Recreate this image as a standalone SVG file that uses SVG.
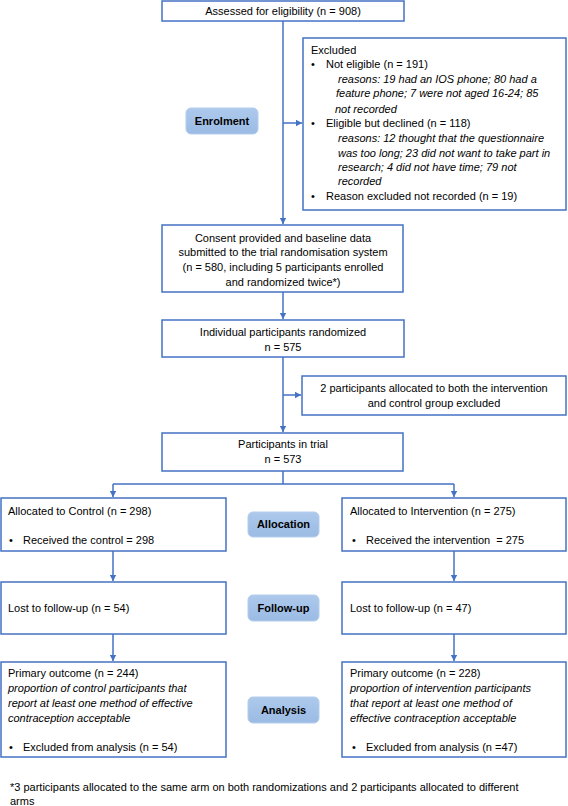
<svg xmlns="http://www.w3.org/2000/svg" width="568" height="806" viewBox="0 0 568 806">
<style>
text{font-family:"Liberation Sans",Arial,sans-serif;font-size:11px;fill:#000}
.c{text-anchor:middle}
.i{font-style:italic}
.b{font-weight:bold}
.box{fill:#fff;stroke:#4472c4;stroke-width:1.5}
.lab{fill:url(#g);stroke:#b4cdec;stroke-width:1}
.ln{fill:none;stroke:#4472c4;stroke-width:1.5}
</style>
<defs>
<linearGradient id="g" x1="0" y1="0" x2="0" y2="1">
<stop offset="0" stop-color="#adc9ec"/>
<stop offset="1" stop-color="#9bbbe4"/>
</linearGradient>
<marker id="a" markerWidth="8" markerHeight="8" refX="6" refY="4" orient="auto" markerUnits="userSpaceOnUse">
<path d="M0,0.8 L6,4 L0,7.2 Z" fill="#4472c4"/>
</marker>
</defs>

<g id="connectors">
<path class="ln" d="M283,21 V224" marker-end="url(#a)"/>
<path class="ln" d="M283,123 H302" marker-end="url(#a)"/>
<path class="ln" d="M283,292 V319" marker-end="url(#a)"/>
<path class="ln" d="M283,357 V432" marker-end="url(#a)"/>
<path class="ln" d="M283,395 H301" marker-end="url(#a)"/>
<path class="ln" d="M283,471 V484 M113,484 H454"/>
<path class="ln" d="M113,484 V497" marker-end="url(#a)"/>
<path class="ln" d="M454,484 V497" marker-end="url(#a)"/>
<path class="ln" d="M113,551 V581" marker-end="url(#a)"/>
<path class="ln" d="M454,551 V581" marker-end="url(#a)"/>
<path class="ln" d="M113,634 V661" marker-end="url(#a)"/>
<path class="ln" d="M454,634 V661" marker-end="url(#a)"/>
</g>

<g id="assessed">
<rect class="box" x="162" y="1" width="242" height="20"/>
<text class="c" x="283" y="15">Assessed for eligibility (n = 908)</text>
</g>

<g id="excluded">
<rect class="box" x="303" y="38" width="263" height="172"/>
<text x="311" y="54">Excluded</text>
<text x="311" y="68">•</text><text x="326" y="68">Not eligible (n = 191)</text>
<text class="i" x="338" y="83">reasons: 19 had an IOS phone; 80 had a</text>
<text class="i" x="336" y="97">feature phone; 7 were not aged 16-24; 85</text>
<text class="i" x="335" y="113">not recorded</text>
<text x="311" y="127">•</text><text x="326" y="127">Eligible but declined (n = 118)</text>
<text class="i" x="338" y="142">reasons: 12 thought that the questionnaire</text>
<text class="i" x="338" y="157">was too long; 23 did not want to take part in</text>
<text class="i" x="338" y="171">research; 4 did not have time; 79 not</text>
<text class="i" x="338" y="185">recorded</text>
<text x="311" y="200">•</text><text x="326" y="200">Reason excluded not recorded (n = 19)</text>
</g>

<g id="enrolment">
<rect class="lab" x="186" y="108" width="72" height="26" rx="5"/>
<text class="c b" x="222" y="125">Enrolment</text>
</g>

<g id="consent">
<rect class="box" x="162" y="225" width="241" height="67"/>
<text class="c" x="283" y="242">Consent provided and baseline data</text>
<text class="c" x="283" y="256">submitted to the trial randomisation system</text>
<text class="c" x="283" y="271">(n = 580, including 5 participants enrolled</text>
<text class="c" x="283" y="286">and randomized twice*)</text>
</g>

<g id="randomized">
<rect class="box" x="162" y="320" width="242" height="37"/>
<text class="c" x="283" y="336">Individual participants randomized</text>
<text class="c" x="283" y="351">n = 575</text>
</g>

<g id="excluded2">
<rect class="box" x="302" y="376" width="264" height="39"/>
<text class="c" x="434" y="392">2 participants allocated to both the intervention</text>
<text class="c" x="434" y="407">and control group excluded</text>
</g>

<g id="participants">
<rect class="box" x="162" y="433" width="241" height="38"/>
<text class="c" x="283" y="448">Participants in trial</text>
<text class="c" x="283" y="463">n = 573</text>
</g>

<g id="alloc-control">
<rect class="box" x="1" y="498" width="225" height="53"/>
<text x="8" y="515">Allocated to Control (n = 298)</text>
<text x="9" y="544">•</text><text x="23" y="544">Received the control = 298</text>
</g>

<g id="allocation">
<rect class="lab" x="248" y="512" width="71" height="25" rx="5"/>
<text class="c b" x="283.5" y="528">Allocation</text>
</g>

<g id="alloc-intervention">
<rect class="box" x="342" y="498" width="224" height="53"/>
<text x="350" y="515">Allocated to Intervention (n = 275)</text>
<text x="352" y="544">•</text><text x="366" y="544" xml:space="preserve">Received the intervention  = 275</text>
</g>

<g id="lost-control">
<rect class="box" x="1" y="582" width="225" height="52"/>
<text x="8" y="612">Lost to follow-up (n = 54)</text>
</g>

<g id="followup">
<rect class="lab" x="248" y="595" width="71" height="26" rx="5"/>
<text class="c b" x="283.5" y="612">Follow-up</text>
</g>

<g id="lost-intervention">
<rect class="box" x="342" y="582" width="224" height="52"/>
<text x="350" y="612">Lost to follow-up (n = 47)</text>
</g>

<g id="analysis-control">
<rect class="box" x="1" y="662" width="225" height="95"/>
<text x="8" y="677">Primary outcome (n = 244)</text>
<text class="i" x="8" y="692">proportion of control participants that</text>
<text class="i" x="8" y="707">report at least one method of effective</text>
<text class="i" x="8" y="722">contraception acceptable</text>
<text x="9" y="751">•</text><text x="23" y="751">Excluded from analysis (n = 54)</text>
</g>

<g id="analysis">
<rect class="lab" x="248" y="697" width="71" height="26" rx="5"/>
<text class="c b" x="283.5" y="714">Analysis</text>
</g>

<g id="analysis-intervention">
<rect class="box" x="342" y="662" width="224" height="95"/>
<text x="350" y="677">Primary outcome (n = 228)</text>
<text class="i" x="350" y="692">proportion of intervention participants</text>
<text class="i" x="350" y="707">that report at least one method of</text>
<text class="i" x="350" y="722">effective contraception acceptable</text>
<text x="352" y="751">•</text><text x="366" y="751">Excluded from analysis (n =47)</text>
</g>

<g id="footnote">
<text x="10" y="791">*3 participants allocated to the same arm on both randomizations and 2 participants allocated to different</text>
<text x="10" y="805">arms</text>
</g>
</svg>
